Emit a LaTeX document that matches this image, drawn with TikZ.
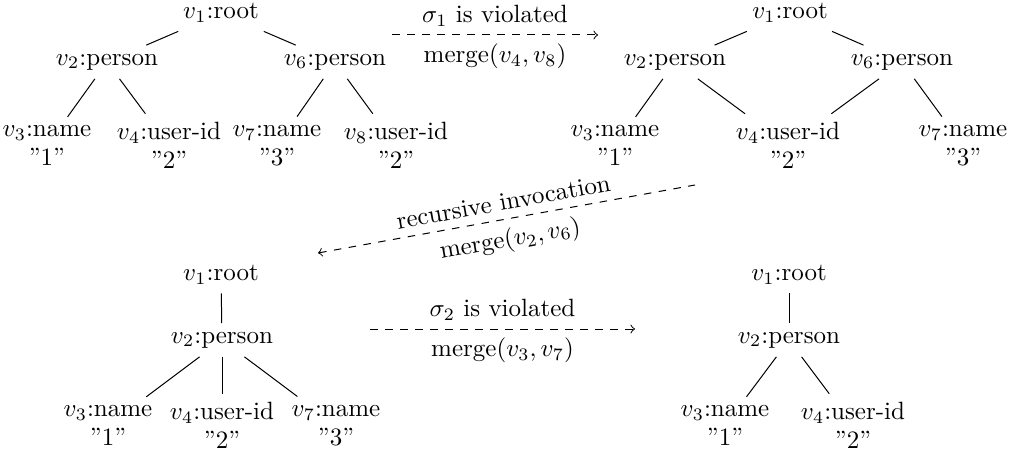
\documentclass[tikz,border=0pt]{standalone}
\begin{document}
\begin{tikzpicture}[x=0.4pt,y=-0.4pt,
  leaf/.style={align=center},
  conn/.style={draw,line width=0.4pt},
  arr/.style={draw,dashed,->},
  arrback/.style={draw,dashed,<-}]
\useasboundingbox (0,0) rectangle (1018,452);
% ---------- top-left tree
\node (a1) at (221,13) {$v_1$:root};
\node (a2) at (107,62) {$v_2$:person};
\node (a6) at (335,62) {$v_6$:person};
\node[leaf] (a3) at (47,145.5) {$v_3$:name\\[-0.6pt]''1''};
\node[leaf] (a4) at (169,145.5) {$v_4$:user-id\\[-0.6pt]''2''};
\node[leaf] (a7) at (277,145.5) {$v_7$:name\\[-0.6pt]''3''};
\node[leaf] (a8) at (396,145.5) {$v_8$:user-id\\[-0.6pt]''2''};
\path[conn] (a1) -- (a2);
\path[conn] (a1) -- (a6);
\path[conn] (a2) -- (a3);
\path[conn] (a2) -- (a4);
\path[conn] (a6) -- (a7);
\path[conn] (a6) -- (a8);
% ---------- top-right tree
\node (b1) at (790,13) {$v_1$:root};
\node (b2) at (675,62) {$v_2$:person};
\node (b6) at (902,62) {$v_6$:person};
\node[leaf] (b3) at (615,145.5) {$v_3$:name\\[-0.6pt]''1''};
\node[leaf] (b4) at (788,145.5) {$v_4$:user-id\\[-0.6pt]''2''};
\node[leaf] (b7) at (963,145.5) {$v_7$:name\\[-0.6pt]''3''};
\path[conn] (b1) -- (b2);
\path[conn] (b1) -- (b6);
\path[conn] (b2) -- (b3);
\path[conn] (b2) -- (b4);
\path[conn] (b6) -- (b4);
\path[conn] (b6) -- (b7);
% ---------- bottom-left tree
\node (c1) at (221,275) {$v_1$:root};
\node (c2) at (222,340) {$v_2$:person};
\node[leaf] (c3) at (108,425.5) {$v_3$:name\\[-0.6pt]''1''};
\node[leaf] (c4) at (222,425.5) {$v_4$:user-id\\[-0.6pt]''2''};
\node[leaf] (c7) at (336,425.5) {$v_7$:name\\[-0.6pt]''3''};
\path[conn] (c1) -- (c2);
\path[conn] (c2) -- (c3);
\path[conn] (c2) -- (c4);
\path[conn] (c2) -- (c7);
% ---------- bottom-right tree
\node (d1) at (789,275) {$v_1$:root};
\node (d2) at (789,340) {$v_2$:person};
\node[leaf] (d3) at (725,425.5) {$v_3$:name\\[-0.6pt]''1''};
\node[leaf] (d4) at (853,425.5) {$v_4$:user-id\\[-0.6pt]''2''};
\path[conn] (d1) -- (d2);
\path[conn] (d2) -- (d3);
\path[conn] (d2) -- (d4);
% ---------- transformation arrows
\coordinate (p1s) at (392,35);
\coordinate (p1e) at (598,35);
\path[arr] (p1s) -- node[above] (l1a) {$\sigma_1$ is violated}
  node[below] (l1b) {merge$(v_4,v_8)$} (p1e);
\coordinate (p2s) at (695,185);
\coordinate (p2e) at (318,253);
\path[arrback] (p2e) -- node[above,sloped] (l2a) {recursive invocation}
  node[below,sloped] (l2b) {merge$(v_2,v_6)$} (p2s);
\coordinate (p3s) at (370,329);
\coordinate (p3e) at (635,329);
\path[arr] (p3s) -- node[above] (l3a) {$\sigma_2$ is violated}
  node[below] (l3b) {merge$(v_3,v_7)$} (p3e);
\end{tikzpicture}
\end{document}
